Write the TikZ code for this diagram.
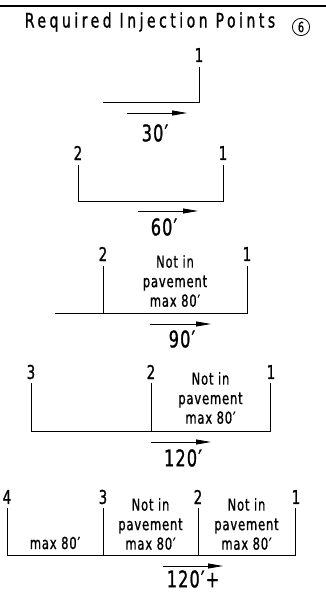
\documentclass[tikz,border=0pt]{standalone}
\usepackage{fontspec}
\setmainfont{DejaVu Sans}[FakeStretch=0.7,LetterSpace=5,FakeBold=1]
\newfontfamily\titlefont{DejaVu Sans}[FakeStretch=0.7,LetterSpace=17.5,FakeBold=1]
\usetikzlibrary{calc}
\usetikzlibrary{arrows.meta}

\tikzset{
  pipe/.style={line width=0.9pt},
  flow/.style={line width=0.8pt,-{Triangle[length=15pt,width=5pt]}},
  pnum/.style={inner sep=0pt,font=\fontsize{19}{19}\selectfont},
  note/.style={inner sep=0pt,align=center,font=\fontsize{16.5}{19.5}\selectfont},
  dist/.style={inner sep=0pt,font=\fontsize{23}{23}\selectfont},
}

\begin{document}
\begin{tikzpicture}[x=1pt,y=-1pt]
\useasboundingbox (0,0) rectangle (326,592);
\coordinate (r0) at (0,6);
\coordinate (r1) at (326,6);
\draw[line width=1.5pt] (r0) -- (r1);
\node[inner sep=0pt,font=\titlefont\fontsize{20}{20}\selectfont] (title) at (150,22) {Required Injection Points};
\node[draw,circle,inner sep=1.8pt,line width=0.8pt,font=\fontsize{14}{14}\selectfont] (six) at (301,27) {6};

\coordinate (a0) at (103,102);
\coordinate (a1) at (199,102);
\coordinate (a1t) at (199,67);
\node[pnum] (a1n) at ($(a1t) + (0,-12)$) {1};
\draw[pipe] (a0) -- (a1) -- (a1t);
\coordinate (as) at (127,113);
\coordinate (ae) at (187,113);
\draw[flow] (as) -- (ae);
\node[dist] (al) at (155,133) {30′};

\coordinate (b2) at (78,201);
\coordinate (b2t) at (78,165);
\coordinate (b1) at (223,201);
\coordinate (b1t) at (223,165);
\node[pnum] (b2n) at ($(b2t) + (0,-12)$) {2};
\node[pnum] (b1n) at ($(b1t) + (0,-12)$) {1};
\draw[pipe] (b2t) -- (b2) -- (b1) -- (b1t);
\coordinate (bs) at (138,211);
\coordinate (be) at (198,211);
\draw[flow] (bs) -- (be);
\node[dist] (bl) at (164,227) {60′};

\coordinate (c0) at (55,313);
\coordinate (c2) at (103,313);
\coordinate (c2t) at (103,266);
\coordinate (c1) at (247,313);
\coordinate (c1t) at (247,266);
\node[pnum] (c2n) at ($(c2t) + (0,-12)$) {2};
\node[pnum] (c1n) at ($(c1t) + (0,-12)$) {1};
\draw[pipe] (c0) -- (c1) -- (c1t);
\draw[pipe] (c2) -- (c2t);
\node[note] (c21) at ($(c2)!0.5!(c1) + (0,-32)$) {Not in\\pavement\\max 80′};
\coordinate (cs) at (150,324);
\coordinate (ce) at (211,324);
\draw[flow] (cs) -- (ce);
\node[dist] (cl) at (182,339) {90′};

\coordinate (d3) at (31,431);
\coordinate (d3t) at (31,383);
\coordinate (d2) at (151,431);
\coordinate (d2t) at (151,383);
\coordinate (d1) at (270,431);
\coordinate (d1t) at (270,383);
\node[pnum] (d3n) at ($(d3t) + (0,-11)$) {3};
\node[pnum] (d2n) at ($(d2t) + (0,-11)$) {2};
\node[pnum] (d1n) at ($(d1t) + (1,-11)$) {1};
\draw[pipe] (d3t) -- (d3) -- (d1) -- (d1t);
\draw[pipe] (d2) -- (d2t);
\node[note] (d21) at ($(d2)!0.5!(d1) + (0,-33)$) {Not in\\pavement\\max 80′};
\coordinate (ds) at (151,442);
\coordinate (de) at (211,442);
\draw[flow] (ds) -- (de);
\node[dist] (dl) at (183,458) {120′};

\coordinate (e4) at (7,555);
\coordinate (e4t) at (7,508);
\coordinate (e3) at (103,555);
\coordinate (e3t) at (103,508);
\coordinate (e2) at (198,555);
\coordinate (e2t) at (198,508);
\coordinate (e1) at (295,555);
\coordinate (e1t) at (295,508);
\node[pnum] (e4n) at ($(e4t) + (0,-11)$) {4};
\node[pnum] (e3n) at ($(e3t) + (0,-11)$) {3};
\node[pnum] (e2n) at ($(e2t) + (0,-11)$) {2};
\node[pnum] (e1n) at ($(e1t) + (1,-11)$) {1};
\draw[pipe] (e4t) -- (e4) -- (e1) -- (e1t);
\draw[pipe] (e3) -- (e3t);
\draw[pipe] (e2) -- (e2t);
\node[note] (e43) at ($(e4)!0.5!(e3) + (0,-12)$) {max 80′};
\node[note] (e32) at ($(e3)!0.5!(e2) + (0,-31)$) {Not in\\pavement\\max 80′};
\node[note] (e21) at ($(e2)!0.5!(e1) + (0,-31)$) {Not in\\pavement\\max 80′};
\coordinate (es) at (163,566);
\coordinate (ee) at (223,566);
\draw[flow] (es) -- (ee);
\node[dist] (el) at (193,579) {120′+};
\end{tikzpicture}
\end{document}
